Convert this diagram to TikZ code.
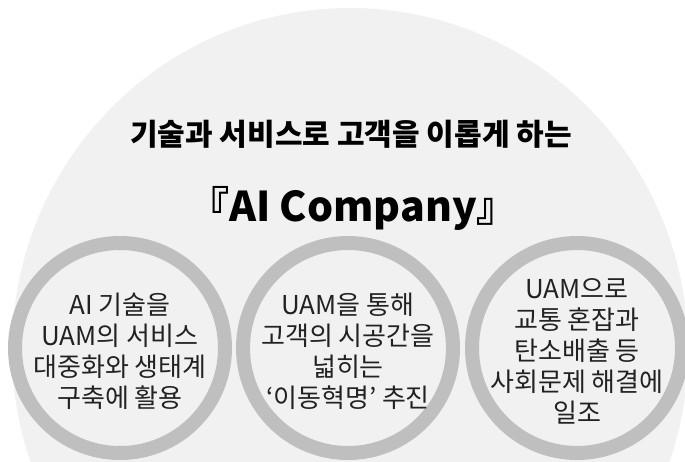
\documentclass[tikz,border=0pt]{standalone}
\usepackage{fontspec}
\setmainfont{Noto Sans CJK KR}
\usepackage{tikz}
\definecolor{domegray}{HTML}{F1F1F1}
\definecolor{ringgray}{HTML}{BFBFBF}
\definecolor{textgray}{HTML}{222222}

\begin{document}
\begin{tikzpicture}[x=1pt, y=-1pt]
\tikzstyle{ring}=[circle, draw=ringgray, line width=14pt, fill=domegray, minimum size=210pt, inner sep=0pt]
\tikzstyle{circletext}=[align=center, text=textgray, font=\fontsize{26}{31}\selectfont]
\tikzstyle{headline}=[anchor=base, font=\bfseries\fontsize{30}{30}\selectfont]

\useasboundingbox (0,0) rectangle (685,461);
\clip (0,0) rectangle (685,461);
\fill[domegray] (350,350) ellipse [x radius=338pt, y radius=342pt];

\node[headline] (slogan) at (351,145) {기술과 서비스로 고객을 이롭게 하는};
\node[headline, font=\bfseries\fontsize{41}{41}\selectfont] (company) at (353,221) {『AI Company』};

\node[ring] (ai) at (120,348) {};
\node[ring] (mobility) at (348,348) {};
\node[ring] (society) at (577,348) {};

\node[circletext] (aitext) at ([yshift=-3pt]ai.center) {AI 기술을\\UAM의 서비스\\대중화와 생태계\\구축에 활용};
\node[circletext] (mobilitytext) at ([yshift=-3pt]mobility.center) {UAM을 통해\\고객의 시공간을\\넓히는\\‘이동혁명’ 추진};
\node[circletext] (societytext) at ([yshift=-3pt]society.center) {UAM으로\\교통 혼잡과\\탄소배출 등\\사회문제 해결에\\일조};

\end{tikzpicture}
\end{document}
